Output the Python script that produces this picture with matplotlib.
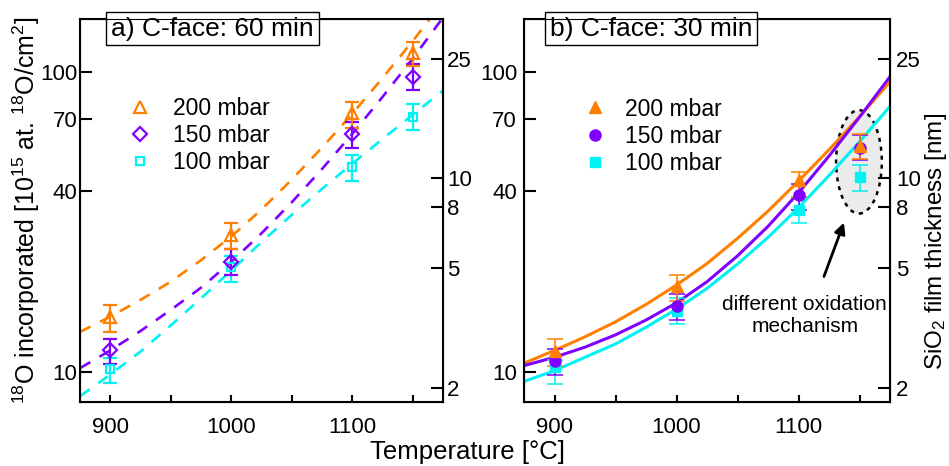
import matplotlib
matplotlib.use('Agg')
import matplotlib.pyplot as plt
from matplotlib.lines import Line2D
from matplotlib.patches import Ellipse
from matplotlib.ticker import NullLocator

plt.rcParams['font.family'] = ['Liberation Sans', 'DejaVu Sans']
plt.rcParams['mathtext.fontset'] = 'custom'
plt.rcParams['mathtext.rm'] = 'Liberation Sans'
plt.rcParams['mathtext.it'] = 'Liberation Sans:italic'
plt.rcParams['mathtext.bf'] = 'Liberation Sans:bold'

ORANGE = '#FF8000'
PURPLE = '#8000FF'
CYAN = '#00F2F2'

labels = ['200 mbar', '150 mbar', '100 mbar']
temps = [900, 1000, 1100, 1150]

# a) C-face, 60 min (open symbols), 10^15 at. 18O/cm2
a_200 = [15.3, 28.7, 72.9, 115.4]
a_200_lo = [13.6, 25.8, 64.9, 105.0]
a_200_hi = [16.7, 31.5, 79.2, 126.2]
a_150 = [11.8, 23.3, 62.4, 96.5]
a_150_lo = [10.6, 21.1, 56.0, 87.1]
a_150_hi = [12.9, 25.8, 68.3, 106.3]
a_100 = [10.2, 22.4, 48.4, 71.0]
a_100_lo = [9.2, 19.9, 43.4, 64.0]
a_100_hi = [11.1, 24.4, 52.8, 78.0]

# b) C-face, 30 min (filled symbols)
b_200 = [11.75, 19.4, 43.6, 56.7]
b_200_lo = [10.5, 17.3, 38.4, 51.3]
b_200_hi = [12.9, 21.1, 46.5, 62.2]
b_150 = [10.9, 16.6, 38.9, 56.0]
b_150_lo = [9.8, 14.9, 34.7, 51.0]
b_150_hi = [11.9, 18.2, 42.3, 61.5]
b_100 = [10.4, 16.0, 34.7, 44.8]
b_100_lo = [9.1, 14.5, 31.3, 40.2]
b_100_hi = [11.0, 17.7, 38.4, 49.0]

# fit curves
fit_T = [875, 900, 925, 950, 975, 1000, 1025, 1050, 1075, 1100, 1125, 1150, 1175]
fit_a_200 = [13.6, 15.3, 17.4, 20.0, 23.6, 28.3, 34.8, 43.8, 56.0, 72.6, 95.5, 127.0, 171.0]
fit_a_150 = [10.3, 11.8, 13.7, 16.1, 19.1, 23.3, 29.0, 36.8, 47.5, 62.2, 82.6, 111.0, 152.0]
fit_a_100 = [8.3, 9.8, 11.7, 14.3, 17.6, 21.8, 27.1, 33.4, 40.8, 49.5, 59.8, 72.1, 86.7]
fit_b_200 = [10.7, 11.8, 13.1, 14.7, 16.8, 19.5, 23.0, 27.9, 34.4, 43.3, 55.1, 71.0, 92.9]
fit_b_150 = [10.5, 11.2, 12.1, 13.3, 14.9, 17.0, 20.0, 24.4, 30.6, 39.6, 52.5, 70.8, 96.6]
fit_b_100 = [9.3, 10.1, 11.2, 12.4, 14.1, 16.2, 19.0, 22.9, 28.1, 35.3, 45.2, 58.6, 76.9]

Y_LIM = (7.94, 150.3)
NM_PER_UNIT = 1 / 4.43  # 18O areal density -> SiO2 thickness
TICK_FS = 16


def err(vals, lo, hi):
    return [[v - l for v, l in zip(vals, lo)], [h - v for v, h in zip(vals, hi)]]


def style_axes(ax, left_pad, right_pad):
    ax.set_xlim(875, 1175)
    ax.set_yscale('log')
    ax.set_ylim(*Y_LIM)
    ax.set_xticks([900, 1000, 1100])
    ax.set_xticks([950, 1050, 1150], minor=True)
    ax.set_yticks([10, 40, 70, 100])
    ax.set_yticklabels(['10', '40', '70', '100'])
    ax.yaxis.set_minor_locator(NullLocator())
    ax.tick_params(axis='x', which='both', direction='in', length=5, width=1.5,
                   labelsize=TICK_FS, pad=11, top=False)
    ax.tick_params(axis='y', which='both', direction='in', length=8.5, width=1.5,
                   labelsize=TICK_FS, pad=left_pad)
    for s in ax.spines.values():
        s.set_linewidth(1.5)

    ax2 = ax.twinx()
    ax2.set_yscale('log')
    ax2.set_ylim(Y_LIM[0] * NM_PER_UNIT, Y_LIM[1] * NM_PER_UNIT)
    ax2.set_yticks([2, 5, 8, 10, 25])
    ax2.set_yticklabels(['2', '5', '8', '10', '25'])
    ax2.yaxis.set_minor_locator(NullLocator())
    ax2.tick_params(axis='y', which='both', direction='in', length=8.5, width=1.5,
                    labelsize=TICK_FS, pad=right_pad)
    return ax2


fig = plt.figure(figsize=(9.49, 4.66), dpi=100)
ax_a = fig.add_axes([0.0843, 0.1373, 0.3825, 0.8219])
ax_b = fig.add_axes([0.5522, 0.1373, 0.3857, 0.8219])
ax_a2 = style_axes(ax_a, 2, 3)
ax_b2 = style_axes(ax_b, 5, 4.5)

# panel a
dash = (0, (4.5, 4))
for vals, color in [(fit_a_200, ORANGE), (fit_a_150, PURPLE), (fit_a_100, CYAN)]:
    ax_a.plot(fit_T, vals, color=color, lw=1.9, ls=dash, zorder=2)

for vals, lo, hi, color, mk, ms in [(a_100, a_100_lo, a_100_hi, CYAN, 's', 5.5),
                                    (a_150, a_150_lo, a_150_hi, PURPLE, 'D', 7.5),
                                    (a_200, a_200_lo, a_200_hi, ORANGE, '^', 9)]:
    ax_a.errorbar(temps, vals, yerr=err(vals, lo, hi), fmt=mk, ms=ms, mfc='none',
                  mec=color, mew=1.6, ecolor=color, elinewidth=1.6, capsize=4.7,
                  capthick=1.6, zorder=3)

handles_a = [Line2D([], [], ls='none', marker='^', ms=9, mfc='none', mec=ORANGE, mew=1.6),
             Line2D([], [], ls='none', marker='D', ms=7.5, mfc='none', mec=PURPLE, mew=1.6),
             Line2D([], [], ls='none', marker='s', ms=5.5, mfc='none', mec=CYAN, mew=1.6)]
ax_a.legend(handles_a, labels, loc='upper left', bbox_to_anchor=(0.108, 0.821),
            borderaxespad=0, frameon=False, fontsize=16.5, handlelength=1.0,
            handletextpad=0.94, labelspacing=0.19)

ax_a.text(0.365, 0.975, 'a) C-face: 60 min', transform=ax_a.transAxes, ha='center',
          va='center', fontsize=19, zorder=10, clip_on=False,
          bbox=dict(boxstyle='square,pad=0.18', fc='white', ec='black', lw=1))

ax_a.set_ylabel(r'$^{18}$O incorporated [10$^{15}$ at. $^{18}$O/cm$^{2}$]', fontsize=18)
ax_a.yaxis.set_label_coords(-0.105, 0.5)

# panel b
ax_b.add_patch(Ellipse((0.915, 0.627), 0.125, 0.270, transform=ax_b.transAxes,
                       fc='#EBEBEB', ec='black', lw=1.8, ls=(0, (1.6, 2.0)), zorder=1))

for vals, color in [(fit_b_200, ORANGE), (fit_b_150, PURPLE), (fit_b_100, CYAN)]:
    ax_b.plot(fit_T, vals, color=color, lw=2.2, zorder=2)

for vals, lo, hi, color, mk, ms in [(b_100, b_100_lo, b_100_hi, CYAN, 's', 6.5),
                                    (b_150, b_150_lo, b_150_hi, PURPLE, 'o', 8),
                                    (b_200, b_200_lo, b_200_hi, ORANGE, '^', 9)]:
    ax_b.errorbar(temps, vals, yerr=err(vals, lo, hi), fmt=mk, ms=ms, mfc=color,
                  mec=color, ecolor=color, elinewidth=1.1, capsize=5.8,
                  capthick=1.1, zorder=3)

handles_b = [Line2D([], [], ls='none', marker='^', ms=9, color=ORANGE),
             Line2D([], [], ls='none', marker='o', ms=8, color=PURPLE),
             Line2D([], [], ls='none', marker='s', ms=6.5, color=CYAN)]
ax_b.legend(handles_b, labels, loc='upper left', bbox_to_anchor=(0.137, 0.819),
            borderaxespad=0, frameon=False, fontsize=16.5, handlelength=1.0,
            handletextpad=0.83, labelspacing=0.19)

ax_b.text(0.347, 0.975, 'b) C-face: 30 min', transform=ax_b.transAxes, ha='center',
          va='center', fontsize=19, zorder=10, clip_on=False,
          bbox=dict(boxstyle='square,pad=0.18', fc='white', ec='black', lw=1))

ax_b.annotate('', xy=(1138, 32.1), xytext=(1120, 20.4),
              arrowprops=dict(arrowstyle='-|>', color='black', lw=2, mutation_scale=16))
ax_b.text(1105, 15.4, 'different oxidation\nmechanism', ha='center', va='center',
          fontsize=15, linespacing=1.2)

ax_b2.set_ylabel('SiO$_2$ film thickness [nm]', fontsize=17.5)
ax_b2.yaxis.set_label_coords(1.089, 0.42)

fig.text(0.4926, 0.03, 'Temperature [°C]', ha='center', va='center', fontsize=18.5)

fig.savefig('out.png', dpi=100)
